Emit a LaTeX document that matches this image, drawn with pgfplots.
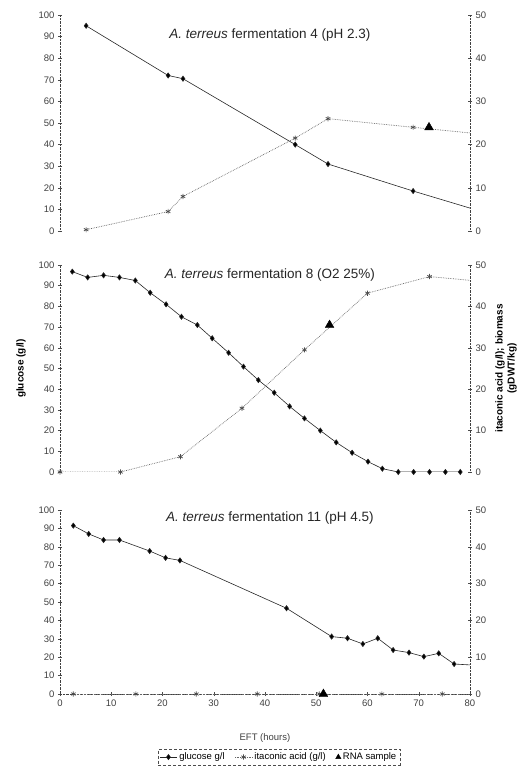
\documentclass[border=0pt]{standalone}
\usepackage{fontspec}
\setmainfont{Liberation Sans}
\usepackage{pgfplots}
\pgfplotsset{compat=1.18}

\tikzset{ttl/.style={font=\fontsize{13.5}{15}\selectfont, text=black!85}}
\pgfplotsset{
  common/.style={
    scale only axis, width=410pt,
    xmin=0, xmax=80,
    tick align=center, major tick length=4pt,
    tick style={black!70, thin},
    axis line style={black!75, densely dotted},
    ticklabel style={font=\fontsize{9.5}{11}\selectfont, text=black!75},
    /pgf/number format/assume math mode=true,
  },
  leftax/.style={common, ymin=0, ymax=100, ytick={0,10,...,100},
    axis y line*=left},
  rightax/.style={common, ymin=0, ymax=50, ytick={0,10,...,50},
    axis y line*=right, axis x line=none},
  glu/.style={black!85, line width=0.6pt, mark=diamond*, mark size=2.6pt,
    mark options={solid, fill=black}},
  gluend/.style={black!85, line width=0.6pt, no marks, forget plot},
  ita/.style={black!60, densely dotted, line width=0.7pt, mark=asterisk,
    mark size=2.6pt, mark options={solid, black!70, line width=0.7pt}},
  itaend/.style={black!60, densely dotted, line width=0.7pt, no marks, forget plot},
  rna/.style={only marks, mark=triangle*, mark size=5pt, black},
}

\begin{document}
\begin{tikzpicture}
\path[use as bounding box] (0,0) rectangle (528pt,769pt);

% ---- fermentation 4 ----
\begin{axis}[leftax, axis x line=none, at={(60pt,538pt)}, height=216pt]
\addplot[glu] coordinates {(5.1,95) (21.1,72) (24,70.5) (45.9,40) (52.3,31) (68.9,18.5)};
\addplot[gluend] coordinates {(68.9,18.5) (80,10.6)};
\node[ttl] at (rel axis cs:0.512,0.907) {\textit{A. terreus} fermentation 4 (pH 2.3)};
\end{axis}
\begin{axis}[rightax, at={(60pt,538pt)}, height=216pt]
\addplot[ita] coordinates {(5.1,0.3) (21.1,4.5) (24,8) (45.9,21.5) (52.3,26) (68.9,24)};
\addplot[itaend] coordinates {(68.9,24) (80,22.7)};
\addplot[rna] coordinates {(72,24)};
\end{axis}

% ---- fermentation 8 ----
\begin{axis}[leftax, axis x line=none, at={(60pt,297pt)}, height=207pt,
  ylabel={\bfseries glucose (g/l)},
  ylabel style={font=\fontsize{10}{12}\selectfont, at={(axis description cs:-0.095,0.5)}, anchor=center}]
\addplot[glu] coordinates {
 (2.4,96.8) (5.4,94) (8.5,95) (11.6,94) (14.7,92.5) (17.6,86.6) (20.7,81)
 (23.7,75) (26.8,71) (29.7,64.6) (32.9,57.6) (35.8,50.9) (38.7,44.4)
 (41.8,38.3) (44.8,31.7) (47.7,25.9) (50.8,20) (53.9,14.3) (57,9.3)
 (60.1,5) (62.9,1.6) (66,0) (69,0) (72.1,0) (75.2,0) (78.1,0)};
\addplot[gluend] coordinates {(78.1,0) (80,0)};
\node[ttl] at (rel axis cs:0.512,0.95) {\textit{A. terreus} fermentation 8 (O2 25\%)};
\end{axis}
\begin{axis}[rightax, at={(60pt,297pt)}, height=207pt,
  ylabel={\bfseries itaconic acid (g/l); biomass\\\bfseries (gDWT/kg)},
  ylabel style={font=\fontsize{10}{12}\selectfont, align=center, at={(axis description cs:1.088,0.5)}, anchor=center}]
\addplot[ita] coordinates {(0,0) (11.8,0) (23.5,3.7) (35.5,15.4) (47.7,29.5) (60,43.2) (72.1,47.2)};
\addplot[itaend] coordinates {(72.1,47.2) (80,46.3)};
\addplot[rna] coordinates {(52.6,35.5)};
\end{axis}

% ---- fermentation 11 ----
\begin{axis}[leftax, at={(60pt,75pt)}, height=184pt,
  axis x line*=bottom, xtick={0,10,...,80},
  xlabel={EFT (hours)},
  xlabel style={font=\fontsize{9.5}{11}\selectfont, text=black!75, at={(axis description cs:0.5,-0.24)}, anchor=center}]
\addplot[glu] coordinates {
 (2.6,91.5) (5.6,87) (8.5,83.7) (11.6,83.7) (17.5,77.7) (20.6,74) (23.4,72.6)
 (44.2,46.6) (53,31.2) (56.1,30.3) (59.1,27.2) (62,30.3) (65,23.9) (68.1,22.5)
 (71,20.3) (73.9,22.1) (76.9,16.3)};
\addplot[gluend] coordinates {(76.9,16.3) (80,15.8)};
\node[ttl] at (rel axis cs:0.512,0.957) {\textit{A. terreus} fermentation 11 (pH 4.5)};
\end{axis}
\begin{axis}[rightax, at={(60pt,75pt)}, height=184pt,
  legend columns=-1,
  legend style={at={(0.534,-0.3)}, anchor=north, draw=black!70, densely dashed,
    font=\fontsize{9.5}{11}\selectfont, inner sep=1.5pt,
    /tikz/every even column/.append style={column sep=8pt}},
  legend cell align=left]
\addlegendimage{glu}
\addlegendentry{glucose g/l}
\addplot[ita] coordinates {(2.6,0) (14.8,0) (26.6,0) (38.5,0) (50.6,0) (62.8,0) (74.6,0)};
\addlegendentry{itaconic acid (g/l)}
\addplot[itaend] coordinates {(74.6,0) (80,0)};
\addplot[rna, forget plot] coordinates {(51.4,0)};
\addlegendimage{rna, mark size=3pt}
\addlegendentry{RNA sample}
\end{axis}
\end{tikzpicture}
\end{document}
